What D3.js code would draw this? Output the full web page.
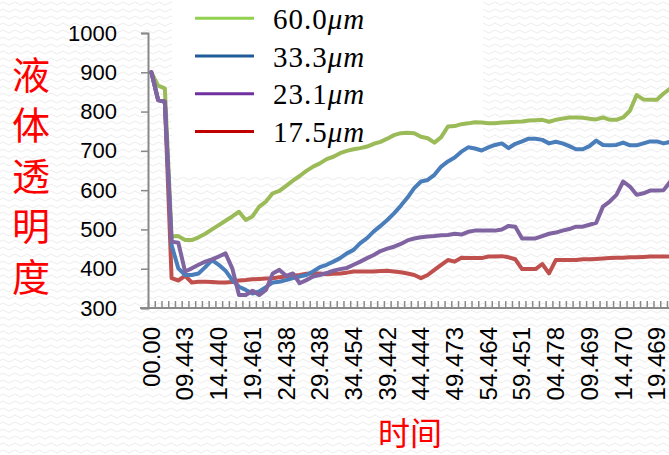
<!DOCTYPE html>
<html>
<head>
<meta charset="utf-8">
<script src="https://cdn.jsdelivr.net/npm/d3@7/dist/d3.min.js"></script>
<style>
  html, body { margin: 0; padding: 0; background: #ffffff; }
  svg { display: block; }
</style>
</head>
<body>
<svg id="chart" width="669" height="455"></svg>
<script>
// Sampling points (one per category slot); every 5th slot carries a time label
const tickLabels = ["00.00", "09.443", "14.440", "19.461", "24.438", "29.438", "34.454", "39.442",
                    "44.444", "49.473", "54.464", "59.451", "04.478", "09.469", "14.470", "19.469"];
const slotCount = 80;

const seriesNames = ["60.0", "33.3", "23.1", "17.5"];

const green600 = [900, 866, 859, 482, 483, 473, 473, 480, 489, 500, 511, 522, 533, 545, 524, 533,
                  558, 571, 592, 598, 611, 624, 636, 649, 660, 668, 679, 685, 694, 700, 704, 707,
                  711, 718, 723, 731, 740, 745, 746, 745, 736, 732, 721, 735, 762, 763, 768, 770,
                  773, 772, 770, 770, 772, 773, 774, 775, 777, 778, 779, 774, 779, 782, 785, 785,
                  784, 782, 780, 785, 779, 779, 785, 802, 842, 831, 830, 830, 846, 859];

const blue333 = [900, 830, 825, 460, 401, 384, 384, 388, 404, 422, 410, 395, 371, 354, 346, 337,
                 342, 353, 365, 367, 371, 376, 380, 384, 393, 404, 410, 418, 427, 439, 448, 465,
                 478, 495, 509, 524, 541, 560, 581, 605, 622, 626, 639, 660, 673, 683, 698, 709,
                 706, 701, 709, 715, 719, 707, 718, 724, 731, 731, 728, 719, 723, 719, 712, 704,
                 704, 712, 726, 715, 714, 715, 721, 714, 714, 719, 724, 724, 719, 723];

const purple231 = [900, 829, 825, 469, 466, 393, 401, 410, 418, 424, 431, 439, 401, 333, 333, 344,
                   333, 346, 388, 397, 382, 388, 363, 371, 380, 384, 389, 395, 399, 402, 410, 418,
                   427, 435, 445, 451, 456, 463, 472, 477, 480, 482, 483, 485, 486, 489, 487, 494,
                   497, 497, 497, 497, 500, 509, 507, 477, 477, 477, 483, 489, 492, 497, 501, 507,
                   507, 512, 517, 558, 571, 588, 622, 609, 588, 592, 599, 599, 600, 622];

const red175 = [900, 830, 825, 376, 370, 382, 365, 367, 367, 366, 365, 365, 366, 370, 371, 373,
                374, 375, 376, 378, 380, 382, 384, 387, 388, 388, 386, 387, 388, 390, 393, 393,
                393, 393, 394, 395, 393, 391, 388, 384, 376, 384, 397, 410, 422, 418, 428, 427,
                427, 427, 431, 431, 432, 429, 424, 399, 399, 399, 412, 388, 422, 422, 422, 422,
                424, 424, 425, 426, 427, 428, 428, 429, 429, 430, 431, 431, 431, 431];

const yTicks = [300, 400, 500, 600, 700, 800, 900, 1000];

const svg = d3.select("#chart");
const W = 669, H = 455;

// Faint wavy backdrop texture
const defs = svg.append("defs");
const pat = defs.append("pattern")
  .attr("id", "waves").attr("patternUnits", "userSpaceOnUse")
  .attr("width", 12).attr("height", 7);
pat.append("path")
  .attr("d", "M0,3.5 Q3,0.5 6,3.5 T12,3.5")
  .attr("fill", "none").attr("stroke", "#ececec").attr("stroke-width", 1);

svg.append("rect").attr("width", W).attr("height", H).attr("fill", "#ffffff");
svg.append("rect").attr("width", W).attr("height", H).attr("fill", "url(#waves)");
// Plain panel behind the legend
svg.append("rect").attr("x", 172).attr("y", 0).attr("width", 311).attr("height", 177).attr("fill", "#ffffff");

const x0 = 148, slotW = 6.74;
const x = d3.scaleLinear().domain([0, slotCount]).range([x0, x0 + slotCount * slotW]);
const y = d3.scaleLinear().domain([300, 1000]).range([308, 33]);

const axisColor = "#898989";

// Y axis
const gy = svg.append("g").attr("transform", `translate(${x0},0)`)
  .call(d3.axisLeft(y).tickValues(yTicks).tickSize(7).tickPadding(24).tickFormat(d3.format("d")));
gy.select(".domain").attr("stroke", axisColor).attr("stroke-width", 2);
gy.selectAll(".tick line").attr("stroke", axisColor).attr("stroke-width", 1.5);
gy.selectAll(".tick text").attr("font-family", "'Liberation Sans', Arial, sans-serif")
  .attr("font-size", 22).attr("fill", "#000");

// X axis: a tick between every slot, pointing into the plot
const gx = svg.append("g").attr("transform", "translate(0,308)")
  .call(d3.axisBottom(x).tickValues(d3.range(0, slotCount + 1)).tickSize(-7).tickFormat(""));
gx.select(".domain").remove();
gx.selectAll(".tick line").attr("stroke", axisColor).attr("stroke-width", 1.5);
svg.append("line").attr("x1", 140).attr("x2", W).attr("y1", 308).attr("y2", 308)
  .attr("stroke", axisColor).attr("stroke-width", 2);

// Time labels, rotated, on every 5th slot
const labelSlots = tickLabels.map((t, k) => ({ slot: k * 5, text: t }));
svg.append("g").selectAll("text").data(labelSlots).join("text")
  .attr("transform", d => `translate(${x(d.slot + 0.5)},327) rotate(-90)`)
  .attr("text-anchor", "end").attr("dy", "0.35em")
  .attr("font-family", "'Liberation Sans', Arial, sans-serif").attr("font-size", 24)
  .attr("fill", "#000").text(d => d.text);

// Data lines
const line = d3.line().x((d, i) => x(i + 0.5)).y(d => y(d));
const series = [
  { values: green600, color: "#9BBB59" },
  { values: red175, color: "#C0504D" },
  { values: blue333, color: "#4A7EBB" },
  { values: purple231, color: "#8064A2" }
];
svg.append("g").selectAll("path").data(series).join("path")
  .attr("d", d => line(d.values))
  .attr("fill", "none").attr("stroke", d => d.color).attr("stroke-width", 4)
  .attr("stroke-linejoin", "round").attr("stroke-linecap", "round");

// Legend
const legendColors = ["#92D050", "#1F5C99", "#7030A0", "#C00000"];
const lg = svg.append("g").selectAll("g").data(seriesNames).join("g")
  .attr("transform", (d, i) => `translate(195,${18.3 + i * 37.7})`);
lg.append("line").attr("x1", 0).attr("x2", 59).attr("y1", 0).attr("y2", 0)
  .attr("stroke", (d, i) => legendColors[i]).attr("stroke-width", 3);
const lt = lg.append("text").attr("x", 78).attr("y", 10.5)
  .attr("font-family", "'Liberation Serif', 'DejaVu Serif', serif").attr("font-size", 29)
  .attr("letter-spacing", 1).attr("fill", "#000");
lt.append("tspan").text(d => d);
lt.append("tspan").attr("font-style", "italic").text("\u03bcm");

// Axis titles
const cjk = "'Noto Sans CJK SC', 'Noto Sans CJK JP', sans-serif";
svg.append("g").selectAll("text").data(Array.from("液体透明度")).join("text")
  .attr("x", 31).attr("y", (d, i) => 75 + i * 50.5).attr("dy", "0.36em")
  .attr("text-anchor", "middle").attr("font-family", cjk).attr("font-size", 38)
  .attr("fill", "#FF0000").text(d => d);
svg.append("text").attr("x", 410).attr("y", 445)
  .attr("text-anchor", "middle").attr("font-family", cjk).attr("font-size", 32)
  .attr("fill", "#FF0000").text("时间");
</script>
</body>
</html>
